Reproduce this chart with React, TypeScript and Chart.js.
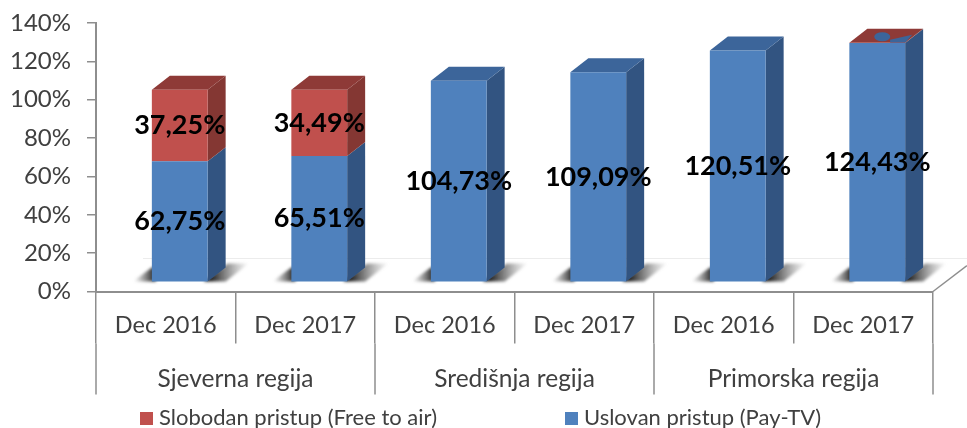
import React, { useEffect, useRef } from "react";
import { Chart, registerables } from "chart.js";

Chart.register(...registerables);

const dateLabels = ["Dec 2016", "Dec 2017", "Dec 2016", "Dec 2017", "Dec 2016", "Dec 2017"];
const groupLabels = ["Sjeverna regija", "Središnja regija", "Primorska regija"];
const groupSizes = [2, 2, 2];
const payTv = [62.75, 65.51, 104.73, 109.09, 120.51, 124.43];
const freeToAir = [37.25, 34.49, 0, 0, 0, 0.1];
const yTicks = { min: 0, max: 140, step: 20 };

const BLUE = "#4f81bd";
const RED = "#c0504d";
const SIDE: Record<string, string> = { [BLUE]: "#325481", [RED]: "#843733" };
const TOP: Record<string, string> = { [BLUE]: "#3c659a", [RED]: "#8e3a37" };
const AXIS = "#8e8e8e";
const TEXT = "#404040";
const DX = 18;
const DY = 14;
const SHIFT = 14;
const FONT = "Lato";

const poly = (ctx: CanvasRenderingContext2D, pts: number[][], fill: string | CanvasGradient) => {
  ctx.beginPath();
  pts.forEach(([x, y], i) => (i ? ctx.lineTo(x, y) : ctx.moveTo(x, y)));
  ctx.closePath();
  ctx.fillStyle = fill;
  ctx.fill();
};

const fmt = (v: number) => v.toFixed(2).replace(".", ",") + "%";

const decor = {
  id: "decor",
  beforeDatasetsDraw(chart: any) {
    const { ctx, chartArea: a } = chart;
    ctx.save();
    // floor
    ctx.strokeStyle = AXIS;
    ctx.lineWidth = 1.5;
    ctx.beginPath();
    ctx.moveTo(a.right, a.bottom);
    ctx.lineTo(a.right + 34, a.bottom - 26);
    ctx.stroke();
    ctx.strokeStyle = "#ececec";
    ctx.lineWidth = 1;
    ctx.beginPath();
    ctx.moveTo(a.left + 47, a.bottom - 33);
    ctx.lineTo(a.right + 34, a.bottom - 33);
    ctx.stroke();

    ctx.translate(SHIFT, 0);
    const first = chart.getDatasetMeta(0).data;
    ctx.filter = "blur(1.5px)";
    first.forEach((el: any) => {
      const l = el.x - el.width / 2;
      const r = el.x + el.width / 2;
      const b = el.base;
      const gl = ctx.createLinearGradient(l - 18, 0, l + 2, 0);
      gl.addColorStop(0, "rgba(60,60,60,0)");
      gl.addColorStop(1, "rgba(30,30,30,0.95)");
      poly(ctx, [[l - 19, b], [l, b - 14], [l + 4, b - 14], [l + 4, b]], gl);
      const gr = ctx.createLinearGradient(r + 2, 0, r + 42, 0);
      gr.addColorStop(0, "rgba(20,20,20,1)");
      gr.addColorStop(1, "rgba(110,110,110,0)");
      poly(ctx, [[r - 4, b], [r + 20, b - 18], [r + 41, b - 18], [r + 18, b]], gr);
    });
    ctx.filter = "none";
    chart.data.datasets.forEach((ds: any, di: number) => {
      chart.getDatasetMeta(di).data.forEach((el: any, i: number) => {
        if (!ds.data[i]) return;
        const r = el.x + el.width / 2;
        poly(ctx, [[r, el.y], [r + DX, el.y - DY], [r + DX, el.base - DY], [r, el.base]], SIDE[ds.backgroundColor]);
      });
    });
    first.forEach((_: any, i: number) => {
      const di = chart.data.datasets[1].data[i] ? 1 : 0;
      const el = chart.getDatasetMeta(di).data[i];
      const l = el.x - el.width / 2;
      const r = el.x + el.width / 2;
      const col = chart.data.datasets[di].backgroundColor;
      poly(ctx, [[l, el.y], [l + DX, el.y - DY], [r + DX, el.y - DY], [r, el.y]], TOP[col]);
      if (chart.data.datasets[di].data[i] < 1) {
        // the blue top showing through the very thin upper segment
        ctx.fillStyle = TOP[BLUE];
        ctx.beginPath();
        ctx.ellipse(el.x + 5, el.y - 6, 8, 4.5, 0, 0, Math.PI * 2);
        ctx.fill();
        poly(ctx, [[r - 15, el.y], [r - 15, el.y - 3], [r + 7, el.y - 8], [r, el.y]], TOP[BLUE]);
      }
    });
  },
  afterDatasetsDraw(chart: any) {
    chart.ctx.restore();
  },
  afterDraw(chart: any) {
    const { ctx, scales, chartArea: a } = chart;
    const x = scales.x;
    const slot = x.getPixelForValue(1) - x.getPixelForValue(0);
    ctx.save();
    // value labels
    ctx.font = `bold 27px ${FONT}`;
    ctx.fillStyle = "#000";
    ctx.textAlign = "center";
    ctx.textBaseline = "middle";
    chart.data.datasets.forEach((ds: any, di: number) => {
      chart.getDatasetMeta(di).data.forEach((el: any, i: number) => {
        if (ds.data[i] < 1) return;
        ctx.fillText(fmt(ds.data[i]), el.x + SHIFT, (el.y + el.base) / 2);
      });
    });
    // group level of the axis
    ctx.font = `24.5px ${FONT}`;
    ctx.fillStyle = TEXT;
    ctx.strokeStyle = AXIS;
    ctx.lineWidth = 1.5;
    let idx = 0;
    const sep = (i: number) => {
      const px = x.getPixelForValue(0) - slot / 2 + slot * i;
      ctx.beginPath();
      ctx.moveTo(px, a.bottom + 52);
      ctx.lineTo(px, a.bottom + 103);
      ctx.stroke();
      return px;
    };
    sep(0);
    groupLabels.forEach((g, gi) => {
      const start = x.getPixelForValue(0) - slot / 2 + slot * idx;
      idx += groupSizes[gi];
      const end = sep(idx);
      ctx.fillText(g, (start + end) / 2, a.bottom + 88);
    });
    // legend
    const items = [...chart.data.datasets].reverse();
    const legendX = [140, 565];
    ctx.font = `22px ${FONT}`;
    ctx.textAlign = "left";
    items.forEach((ds: any, i: number) => {
      ctx.fillStyle = ds.backgroundColor;
      ctx.fillRect(legendX[i], 412, 13, 13);
      ctx.fillStyle = TEXT;
      ctx.fillText(ds.label, legendX[i] + 19, 418);
    });
    ctx.restore();
  },
};

export default function App() {
  const ref = useRef<HTMLCanvasElement>(null);
  useEffect(() => {
    const chart = new Chart(ref.current!, {
      type: "bar",
      data: {
        labels: dateLabels,
        datasets: [
          { label: "Uslovan pristup (Pay-TV)", data: payTv, backgroundColor: BLUE, yAxisID: "yBar", barPercentage: 0.4, categoryPercentage: 1 },
          { label: "Slobodan pristup (Free to air)", data: freeToAir, backgroundColor: RED, yAxisID: "yBar", barPercentage: 0.4, categoryPercentage: 1 },
        ],
      },
      options: {
        animation: false,
        responsive: false,
        layout: { padding: { top: 23, right: 34, left: 0, bottom: 0 } },
        plugins: { legend: { display: false }, tooltip: { enabled: false } },
        scales: {
          x: {
            stacked: true,
            border: { color: AXIS, width: 2 },
            grid: { drawOnChartArea: false, tickLength: 52, color: AXIS, lineWidth: 1.5, offset: true },
            ticks: { autoSkip: false, maxRotation: 0, padding: -32, color: TEXT, font: { family: FONT, size: 23.5 } },
            afterFit: (s: any) => { s.height = 136.5; s.paddingTop = 0; s.paddingBottom = 0; },
          },
          y: {
            position: "left",
            min: yTicks.min,
            max: yTicks.max,
            border: { color: AXIS, width: 2 },
            grid: { drawOnChartArea: false, tickLength: 9, color: AXIS, lineWidth: 1.5 },
            ticks: { stepSize: yTicks.step, padding: 16, color: TEXT, font: { family: FONT, size: 24 }, callback: (v: any) => `${v}%` },
            afterFit: (s: any) => { s.width = 96; s.paddingTop = 0; s.paddingBottom = 0; },
          },
          yBar: { display: false, stacked: true, min: -5.2, max: 134.8 },
        },
      },
      plugins: [decor],
    } as any);
    return () => chart.destroy();
  }, []);
  return (
    <div style={{ position: "fixed", left: 0, top: 0, width: 967, height: 428, background: "#fff" }}>
      <canvas ref={ref} width={967} height={428} style={{ display: "block" }} />
    </div>
  );
}
